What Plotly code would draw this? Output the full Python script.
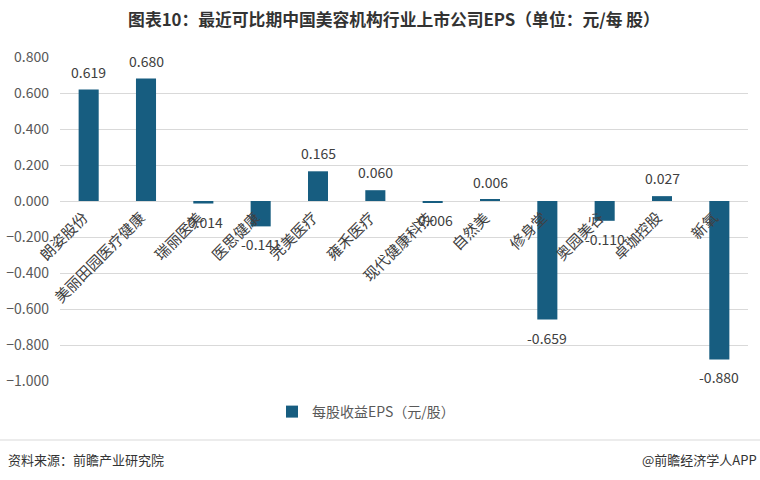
import plotly.graph_objects as go

categories = ["朗姿股份", "美丽田园医疗健康", "瑞丽医美", "医思健康", "完美医疗", "雍禾医疗",
              "现代健康科技", "自然美", "修身堂", "奥园美谷", "卓珈控股", "新氧"]
eps = [0.619, 0.680, -0.014, -0.141, 0.165, 0.060, -0.006, 0.006, -0.659, -0.110, 0.027, -0.880]
y_ticks = [0.8, 0.6, 0.4, 0.2, 0.0, -0.2, -0.4, -0.6, -0.8, -1.0]
series_name = "每股收益EPS（元/股）"
title = "图表10：最近可比期中国美容机构行业上市公司EPS（单位：元/每 股）"

FONT = "Noto Sans CJK SC"
BAR = "#175d80"

W, H = 760, 480
ML, MR, MT, MB = 60, 12, 57, 99
PW, PH = W - ML - MR, H - MT - MB

fig = go.Figure()
fig.add_trace(go.Bar(
    x=categories, y=eps, name=series_name,
    marker=dict(color=BAR, line=dict(width=0)),
    cliponaxis=False, showlegend=True,
))

# value labels
for c, v in zip(categories, eps):
    fig.add_annotation(x=c, y=v, xref="x", yref="y", text=f"{v:.3f}",
                       showarrow=False, xanchor="center",
                       yanchor="bottom" if v >= 0 else "top",
                       yshift=6 if v >= 0 else -6,
                       font=dict(family=FONT, size=14, color="#404040"))

# category labels along the zero line
for c in categories:
    fig.add_annotation(x=c, y=0, xref="x", yref="y", text=c, textangle=-45,
                       showarrow=False, xanchor="right", yanchor="top",
                       xshift=6, yshift=-3,
                       font=dict(family=FONT, size=15, color="#404040"))

def px_x(p):
    return (p - ML) / PW

def px_y(p):
    return (H - MB - p) / PH

# separator line and footer
fig.add_shape(type="line", xref="paper", yref="paper",
              x0=px_x(0), x1=px_x(W), y0=px_y(440), y1=px_y(440),
              line=dict(color="#d9d9d9", width=1))
fig.add_annotation(xref="paper", yref="paper", x=px_x(6), y=px_y(459),
                   text="资料来源：前瞻产业研究院", showarrow=False,
                   xanchor="left", yanchor="middle",
                   font=dict(family=FONT, size=13, color="#333333"))
fig.add_annotation(xref="paper", yref="paper", x=px_x(759), y=px_y(459),
                   text="@前瞻经济学人APP", showarrow=False,
                   xanchor="right", yanchor="middle",
                   font=dict(family=FONT, size=13, color="#333333"))

fig.update_layout(
    width=W, height=H,
    margin=dict(l=ML, r=MR, t=MT, b=MB, autoexpand=False),
    paper_bgcolor="white", plot_bgcolor="white",
    title=dict(text=f"<b>{title}</b>", x=394 / W, xref="container", xanchor="center",
               y=1 - 20 / H, yanchor="middle",
               font=dict(family=FONT, size=16.8, color="#333333")),
    bargap=0.65,
    xaxis=dict(showticklabels=False, showgrid=False, zeroline=False, showline=False,
               ticks="", automargin=False, range=[-0.5, len(categories) - 0.5],
               autorange=False),
    yaxis=dict(range=[-1.0, 0.8], tickvals=y_ticks, tickformat=".3f",
               showgrid=True, gridcolor="#d9d9d9", gridwidth=1,
               zeroline=True, zerolinecolor="#d9d9d9", zerolinewidth=1,
               showline=False, ticks="", ticklen=0, automargin=False,
               ticklabelstandoff=10,
               tickfont=dict(family=FONT, size=14, color="#595959")),
    legend=dict(orientation="h", x=px_x(272), xanchor="left",
                y=px_y(412), yanchor="middle",
                font=dict(family=FONT, size=14, color="#595959"),
                itemwidth=30),
    font=dict(family=FONT),
)

fig.write_html("out.html")
